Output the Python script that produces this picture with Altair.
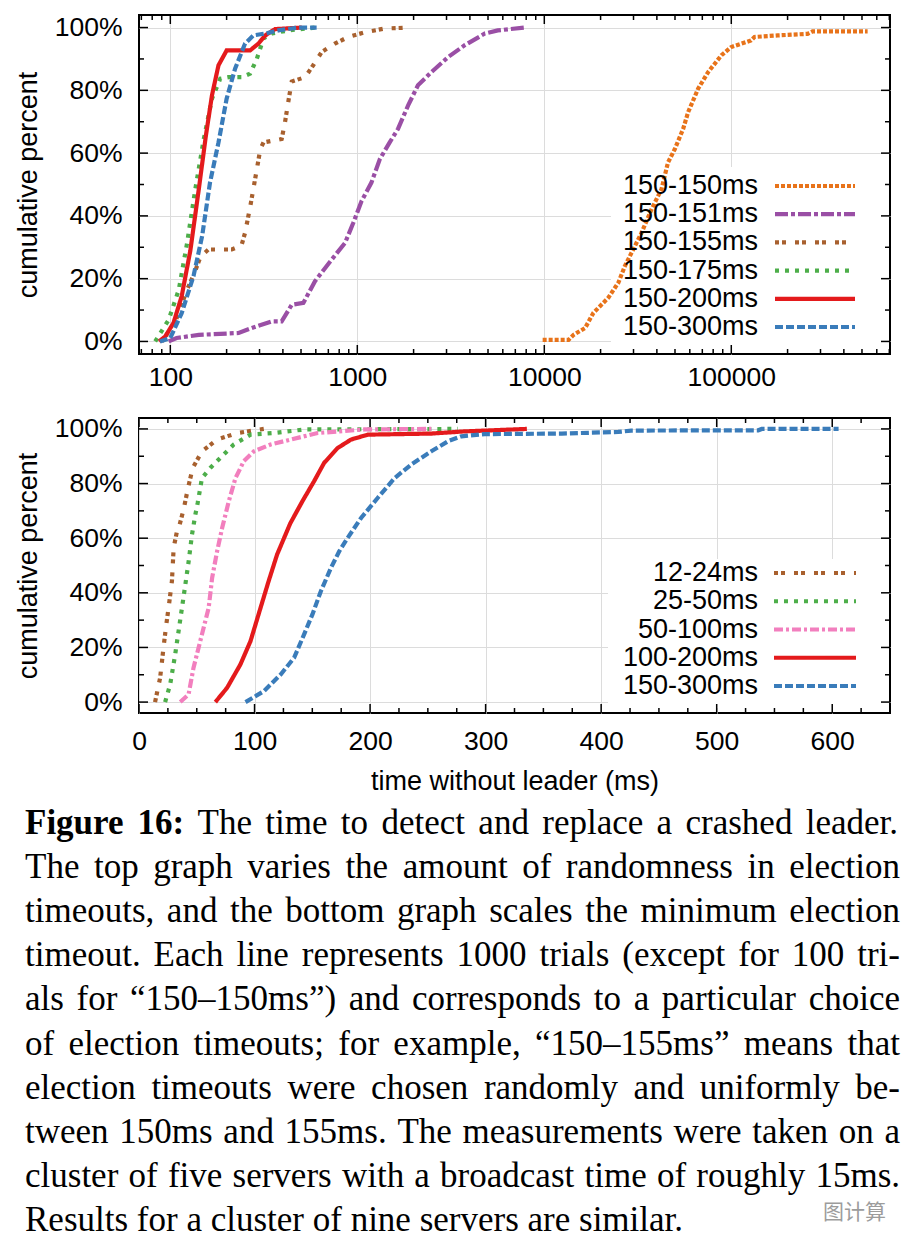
import altair as alt
import pandas as pd

FONT = "Liberation Sans"
SERIF = "Liberation Serif"

# ---------------- top graph data (time in ms, cumulative percent) ----------------
top_names = ["150-150ms", "150-151ms", "150-155ms", "150-175ms", "150-200ms", "150-300ms"]
top_colors = ["#e8731a", "#9a4fa5", "#a8602e", "#4dae4a", "#e41a1c", "#3a7cba"]
top_dashes = [[4, 2], [13, 3, 4, 3], [4, 3, 4, 9], [4, 6], [1, 0], [8, 3]]
top_widths = [4.2, 4.2, 4.2, 4.2, 5, 4.2]

s150_150_t = [9800, 13480, 14330, 16540, 18310, 21980, 24880, 26970, 29880, 33110, 37440, 42330,
              45870, 49900, 55270, 58740, 66460, 75180, 88650, 100000, 127500, 133000, 177000,
              256000, 272000, 536000]
s150_150_p = [0.5, 0.5, 2.1, 4.3, 9.1, 13.9, 18.7, 24, 29.3, 34.6, 42.1, 48.5, 57, 61.3, 67.7, 73,
              80.5, 85.8, 91.2, 93.8, 95.9, 97, 97.5, 98, 98.8, 98.8]

s150_151_t = [98, 108, 142, 232, 273, 349, 394, 446, 515, 594, 730, 860, 952, 1055, 1190, 1320,
              1490, 1650, 1870, 2110, 2490, 3060, 3760, 4810, 5640, 7870]
s150_151_p = [0, 1.1, 2.1, 2.7, 4.3, 6.4, 6.4, 11.7, 12.3, 19.2, 26.1, 31.4, 37.8, 44.8, 50.6,
              58.1, 63.4, 67.7, 75.2, 81.6, 85.8, 90.6, 94.4, 98.1, 99.1, 100]

s150_155_t = [90, 106, 123, 135, 145, 160, 213, 240, 251, 268, 284, 303, 315, 394, 411, 427, 446,
              526, 581, 645, 759, 894, 1100, 1400, 1910]
s150_155_p = [0, 6, 16.5, 22, 27, 29.3, 29.3, 30.5, 34.6, 43.2, 51.7, 61.3, 63.4, 64.5, 70, 76.2,
              82.8, 84.2, 88, 92.2, 94.9, 97, 98.5, 99.7, 100]

s150_175_t = [83, 98, 111, 123, 136, 151, 167, 185, 205, 241, 267, 290, 315, 349, 428, 595]
s150_175_p = [0, 6.9, 16.5, 31.4, 48.5, 64.5, 77.3, 83.7, 84.2, 84.2, 85.3, 90, 96.5, 98.1, 99.1, 100]

s150_200_t = [87, 94, 104, 115, 128, 142, 155, 167, 181, 200, 267, 296, 322, 363, 505]
s150_200_p = [0, 1.6, 5.9, 14.4, 29, 48.5, 65.6, 78.4, 88, 92.7, 92.7, 94.9, 97.5, 99.5, 100]

s150_300_t = [88, 100, 115, 133, 148, 163, 181, 200, 222, 251, 278, 322, 378, 484, 606]
s150_300_p = [0, 1.1, 9, 20.8, 33.6, 50.6, 63.4, 77.3, 86.9, 94.9, 97.5, 98.1, 99.1, 100, 100]

top_series = [(s150_150_t, s150_150_p), (s150_151_t, s150_151_p), (s150_155_t, s150_155_p),
              (s150_175_t, s150_175_p), (s150_200_t, s150_200_p), (s150_300_t, s150_300_p)]

# ---------------- bottom graph data ----------------
bot_names = ["12-24ms", "25-50ms", "50-100ms", "100-200ms", "150-300ms "]
bot_labels = ["12-24ms", "25-50ms", "50-100ms", "100-200ms", "150-300ms"]
bot_colors = ["#a8602e", "#4dae4a", "#f27fbe", "#e41a1c", "#3a7cba"]
bot_dashes = [[4, 3, 4, 9], [4, 6], [9, 3, 3, 3], [1, 0], [8, 3]]
bot_widths = [4.2, 4.2, 4.2, 5, 4.2]

b12_24_t = [13.9, 18.3, 21.2, 23.5, 25.6, 28.5, 30, 32.9, 35.2, 38.6, 42.5, 46.5, 54.5, 67.5, 84.9, 108]
b12_24_p = [0, 8.9, 19.9, 28, 34.5, 44.3, 56.5, 62.6, 65, 70.5, 78.5, 85.7, 91.8, 96.1, 98.5, 100]

b25_50_t = [22.6, 27, 31.3, 37.2, 40.1, 43, 45.9, 48.8, 50.8, 54.5, 61.7, 70.4, 82, 96.5, 116.8, 143, 276]
b25_50_p = [0, 6.5, 17.4, 34.5, 43, 51.6, 61.4, 68.7, 72.9, 82, 85.7, 89.4, 94.3, 97.9, 98.5, 99.8, 100]

b50_100_t = [35.7, 42.9, 47.2, 53, 60.3, 63.3, 67.6, 72, 77.7, 83.5, 90.7, 99.4, 113.9, 131.3, 154.5, 195, 253]
b50_100_p = [0, 2.8, 12.6, 22.3, 34.5, 45.5, 55.2, 63.8, 73.5, 82, 88.2, 91.8, 94.3, 96.1, 98.5, 99.8, 100]

b100_200_t = [66.1, 76.2, 87.8, 96.5, 105.2, 112, 119.5, 131, 141.4, 151.6, 160.3, 171.9, 183.5, 198,
              253, 282, 335.7]
b100_200_p = [0, 5.2, 13.8, 22.3, 34.5, 44, 54, 65.5, 73.5, 80.9, 87.6, 93, 96.1, 97.9, 98.3, 99.1, 100]

b150_300_t = [92.2, 108.1, 122.6, 134.2, 142.9, 150.1, 157.4, 166.1, 173.3, 180.6, 192.2, 206.7, 221.2,
              235.7, 253, 267.5, 279.1, 299, 366, 414.7, 426, 536, 539, 605.5]
b150_300_p = [0, 4, 10.1, 16.2, 24.8, 32.1, 40.6, 49.1, 55.2, 60.1, 67.4, 74.8, 82, 87, 91.8, 95.5,
              97.3, 98.1, 98.3, 98.9, 99.4, 99.5, 100, 100]

bot_series = [(b12_24_t, b12_24_p), (b25_50_t, b25_50_p), (b50_100_t, b50_100_p),
              (b100_200_t, b100_200_p), (b150_300_t, b150_300_p)]

# axis tick values
y_major = [0, 20, 40, 60, 80, 100]
y_minor = [10, 30, 50, 70, 90]
top_x_major = [100, 1000, 10000, 100000]
top_x_domain = [68, 706000]
top_x_minor = [m * 10 ** k for k in range(1, 6) for m in range(2, 10)
               if top_x_domain[0] <= m * 10 ** k <= top_x_domain[1]]
bot_x_major = [0, 100, 200, 300, 400, 500, 600]
bot_x_minor = [v for v in range(25, 650, 25) if v % 100 != 0]
bot_x_domain = [0, 650]

caption_lines = [
    "Figure 16: The time to detect and replace a crashed leader.",
    "The top graph varies the amount of randomness in election",
    "timeouts, and the bottom graph scales the minimum election",
    "timeout. Each line represents 1000 trials (except for 100 tri-",
    "als for \u201c150\u2013150ms\u201d) and corresponds to a particular choice",
    "of election timeouts; for example, \u201c150\u2013155ms\u201d means that",
    "election timeouts were chosen randomly and uniformly be-",
    "tween 150ms and 155ms. The measurements were taken on a",
    "cluster of five servers with a broadcast time of roughly 15ms.",
    "Results for a cluster of nine servers are similar.",
]
watermark = "\u56fe\u8ba1\u7b97"


def frame(series, names, key):
    rows = []
    for name, (ts, ps) in zip(names, series):
        for i, (t, p) in enumerate(zip(ts, ps)):
            rows.append({key: name, "t": t, "pct": p, "i": i})
    return pd.DataFrame(rows)


def panel(df, key, names, labels, colors, dashes, widths, xscale, xaxis, xmajor, xminor, W, H,
          rows_range, box, label_x, samp):
    yscale = alt.Scale(domain=[-4, 104], nice=False, zero=False)
    yaxis = alt.Axis(values=y_major, labelExpr="datum.value + '%'", title="cumulative percent",
                     titleFont=FONT, titleFontSize=27, titleFontWeight="normal", titleColor="black",
                     titlePadding=12, labelFont=FONT, labelFontSize=26.5, labelColor="black",
                     labelPadding=17, ticks=False, domain=False, grid=True,
                     gridColor="#dcdcdc", gridWidth=1)

    def X():
        return alt.X("t:Q", scale=xscale, axis=xaxis)

    def Y():
        return alt.Y("pct:Q", scale=yscale, axis=yaxis)

    col = alt.Color(key + ":N", scale=alt.Scale(domain=names, range=colors), legend=None)
    dash = alt.StrokeDash(key + ":N", scale=alt.Scale(domain=names, range=dashes), legend=None)
    size = alt.Size(key + ":N", scale=alt.Scale(domain=names, range=widths), legend=None)

    box_layer = alt.Chart(pd.DataFrame({"k": [0]})).mark_rect(color="white").encode(
        x=alt.value(box[0]), x2=alt.value(box[1]), y=alt.value(box[2]), y2=alt.value(box[3]))

    lines = alt.Chart(df).mark_line(strokeCap="butt", strokeJoin="miter", clip=True).encode(
        x=X(), y=Y(), color=col, strokeDash=dash, size=size, order=alt.Order("i:Q"))

    ticks = []
    for vals, L in ((y_major, 9), (y_minor, 5)):
        base = alt.Chart(pd.DataFrame({"pct": vals})).mark_rule(color="black", strokeWidth=1.5)
        ticks.append(base.encode(y=Y(), x=alt.value(0), x2=alt.value(L)))
        ticks.append(base.encode(y=Y(), x=alt.value(W), x2=alt.value(W - L)))
    for vals, L in ((xmajor, 9), (xminor, 5)):
        base = alt.Chart(pd.DataFrame({"t": vals})).mark_rule(color="black", strokeWidth=1.5)
        ticks.append(base.encode(x=X(), y=alt.value(H), y2=alt.value(H - L)))
        ticks.append(base.encode(x=X(), y=alt.value(0), y2=alt.value(L)))

    leg_df = pd.DataFrame({key: names, "label": labels, "row": list(range(len(names)))})
    ly = alt.Y("row:Q", scale=alt.Scale(domain=[0, len(names) - 1], range=rows_range,
                                        nice=False, zero=False), axis=None)
    leg_text = alt.Chart(leg_df).mark_text(align="right", baseline="middle", font=FONT,
                                           fontSize=27, color="black").encode(
        x=alt.value(label_x), y=ly, text="label:N")
    leg_line = alt.Chart(leg_df).mark_rule(strokeCap="butt").encode(
        x=alt.value(samp[0]), x2=alt.value(samp[1]), y=ly, color=col, strokeDash=dash, size=size)

    data_group = alt.layer(box_layer, lines, *ticks)
    legend_group = alt.layer(leg_text, leg_line)
    return alt.layer(data_group, legend_group).resolve_scale(y="independent").properties(
        width=W, height=H)


top_x_axis = alt.Axis(values=top_x_major, format="d", grid=True, gridColor="#dcdcdc", gridWidth=1,
                      ticks=False, domain=False, labelFont=FONT, labelFontSize=26.5,
                      labelColor="black", labelPadding=10, title=None, labelFlush=False)
bot_x_axis = alt.Axis(values=bot_x_major, format="d", grid=True, gridColor="#dcdcdc", gridWidth=1,
                      ticks=False, domain=False, labelFont=FONT, labelFontSize=26.5,
                      labelColor="black", labelPadding=15, title="time without leader (ms)",
                      titleFont=FONT, titleFontSize=27, titleFontWeight="normal",
                      titleColor="black", titlePadding=14, labelFlush=False)

top = panel(frame(top_series, top_names, "run"), "run", top_names, top_names, top_colors,
            top_dashes, top_widths,
            alt.Scale(type="log", domain=top_x_domain, nice=False), top_x_axis,
            top_x_major, top_x_minor, 751, 339, [171, 312], [472, 750, 152, 333], 619, [636, 716])

bottom = panel(frame(bot_series, bot_names, "cfg"), "cfg", bot_names, bot_labels, bot_colors,
               bot_dashes, bot_widths,
               alt.Scale(domain=bot_x_domain, nice=False, zero=False), bot_x_axis,
               bot_x_major, bot_x_minor, 751, 295, [155, 268], [469, 750, 141, 290], 619, [635, 717])

# ---------------- caption (justified, Times metrics) ----------------
REG_W = {' ': 250, '(': 333, ')': 333, ',': 250, '-': 333, '.': 250, ':': 278, ';': 278,
         'A': 722, 'B': 667, 'C': 667, 'D': 722, 'E': 611, 'F': 556, 'G': 722, 'H': 722, 'I': 333,
         'J': 389, 'K': 722, 'L': 611, 'M': 889, 'N': 722, 'O': 722, 'P': 556, 'Q': 722, 'R': 667,
         'S': 556, 'T': 611, 'U': 722, 'V': 722, 'W': 944, 'X': 722, 'Y': 722, 'Z': 611,
         'a': 444, 'b': 500, 'c': 444, 'd': 500, 'e': 444, 'f': 333, 'g': 500, 'h': 500, 'i': 278,
         'j': 278, 'k': 500, 'l': 278, 'm': 778, 'n': 500, 'o': 500, 'p': 500, 'q': 500, 'r': 333,
         's': 389, 't': 278, 'u': 500, 'v': 500, 'w': 722, 'x': 500, 'y': 500, 'z': 444,
         '\u201c': 444, '\u201d': 444, '\u2013': 500}
BOLD_W = {'F': 611, 'i': 278, 'g': 500, 'u': 556, 'r': 444, 'e': 444, ':': 333}
CAP_FS = 35
PLOT_LEFT = 138          # caption group origin sits under the plot areas
CAP_L, CAP_R = 24 - PLOT_LEFT, 899 - PLOT_LEFT
CAP_Y0, CAP_LH = 32, 44.1

cap_rows = []
for ln, line in enumerate(caption_lines):
    words = line.split(" ")
    bold = [ln == 0 and k < 2 for k in range(len(words))]
    widths = [sum((BOLD_W if b else REG_W).get(c, 500) for c in w) * CAP_FS / 1000
              for w, b in zip(words, bold)]
    if ln < len(caption_lines) - 1:
        gap = (CAP_R - CAP_L - sum(widths)) / (len(words) - 1)
    else:
        gap = REG_W[' '] * CAP_FS / 1000
    x = CAP_L
    for w, b, wd in zip(words, bold, widths):
        cap_rows.append({"word": w, "px": x, "ln": ln, "bold": b})
        x += wd + gap
cap_df = pd.DataFrame(cap_rows)

cx = alt.X("px:Q", scale=None, axis=None)
cy = alt.Y("ln:Q", scale=alt.Scale(domain=[0, 9], range=[CAP_Y0, CAP_Y0 + 9 * CAP_LH]), axis=None)
cap_reg = alt.Chart(cap_df[~cap_df["bold"]]).mark_text(
    align="left", baseline="alphabetic", font=SERIF, fontSize=CAP_FS, color="black").encode(
    x=cx, y=cy, text="word:N")
cap_bold = alt.Chart(cap_df[cap_df["bold"]]).mark_text(
    align="left", baseline="alphabetic", font=SERIF, fontSize=CAP_FS, fontWeight="bold",
    color="black").encode(x=cx, y=cy, text="word:N")
wm = alt.Chart(pd.DataFrame({"w": [watermark]})).mark_text(
    align="left", baseline="middle", font="Noto Sans CJK SC", fontSize=21, color="#9c9c9c").encode(
    x=alt.value(822 - PLOT_LEFT), y=alt.value(411), text="w:N")

caption = alt.layer(cap_reg, cap_bold, wm).properties(
    width=751, height=434, view=alt.ViewBackground(stroke="transparent"))

plots = alt.vconcat(top, bottom, spacing=22).resolve_scale(
    x="independent", y="independent", color="independent",
    strokeDash="independent", size="independent")

chart = alt.vconcat(plots, caption, spacing=5).resolve_scale(
    x="independent", y="independent").properties(
    padding={"left": 5, "top": 5, "right": 0, "bottom": 0}
).configure_view(stroke="black", strokeWidth=2)

chart.save("out.html", embed_options={"renderer": "svg", "actions": False})
